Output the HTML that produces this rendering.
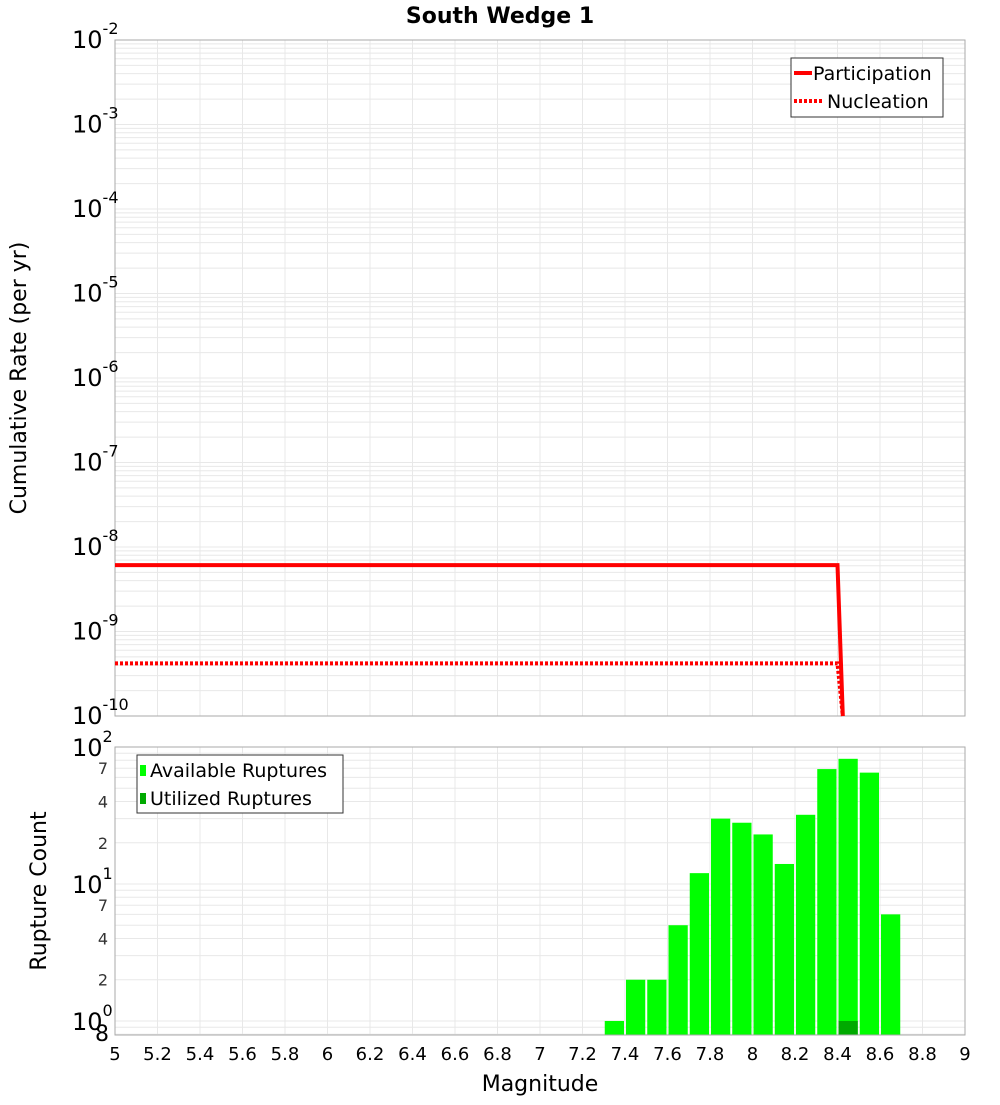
<!DOCTYPE html>
<html><head><meta charset="utf-8"><style>
body{margin:0;background:#fff;font-family:"Liberation Sans","DejaVu Sans",sans-serif;}
svg text{font-family:"DejaVu Sans","Liberation Sans",sans-serif;}
</style></head><body>
<svg id="c" width="1000" height="1100" xmlns="http://www.w3.org/2000/svg"></svg>
<script>
const lineMags=[5,8.4,8.425];
const participation=[6.1e-9,6.1e-9,1e-10];
const nucleation=[4.2e-10,4.2e-10,1e-10];
const binCenters=[7.35,7.45,7.55,7.65,7.75,7.85,7.95,8.05,8.15,8.25,8.35,8.45,8.55,8.65];
const available=[1,2,2,5,12,30,28,23,14,32,69,82,65,6];
const utilized=[0,0,0,0,0,0,0,0,0,0,0,1,0,0];
const xTicks=[5,5.2,5.4,5.6,5.8,6,6.2,6.4,6.6,6.8,7,7.2,7.4,7.6,7.8,8,8.2,8.4,8.6,8.8,9];
const topExps=[-10,-9,-8,-7,-6,-5,-4,-3,-2];

const NS='http://www.w3.org/2000/svg';
const svg=document.getElementById('c');
function el(t,a,p){const e=document.createElementNS(NS,t);for(const k in a)e.setAttribute(k,a[k]);(p||svg).appendChild(e);return e;}
const L=115,R=965;
const x=v=>L+(v-5)/(9-5)*(R-L);
const T1=40,B1=716;
const y1=v=>B1-(Math.log10(v)+10)/8*(B1-T1);
const T2=747,B2=1035,lo2=Math.log10(0.79);
const y2=v=>B2-(Math.log10(v)-lo2)/(2-lo2)*(B2-T2);

// title
let t=el('text',{x:500,y:23,'text-anchor':'middle','font-size':22,'font-weight':'bold'});t.textContent='South Wedge 1';


// top grid
const g1=el('g',{});

for(let e=-10;e<-2;e++)for(let m=1;m<10;m++){const yy=y1(m*Math.pow(10,e));el('line',{x1:L,x2:R,y1:yy,y2:yy,stroke:'#e8e8e8','stroke-width':1},g1);}
xTicks.forEach(v=>el('line',{x1:x(v),x2:x(v),y1:T1,y2:B1,stroke:'#e8e8e8'},g1));
let f=el('rect',{x:L,y:T1,width:R-L,height:B1-T1,fill:'none',stroke:'#aaa'});

topExps.forEach(e=>{const tt=el('text',{x:72,y:y1(Math.pow(10,e))+8,'font-size':24});tt.textContent='10';
 const s=el('tspan',{dy:-14,'font-size':16});s.textContent=String(e);tt.appendChild(s);
 });
t=el('text',{x:0,y:0,'font-size':22,'text-anchor':'middle',transform:`translate(26,378) rotate(-90)`});t.textContent='Cumulative Rate (per yr)';


// lines
function pts(xs,ys){return xs.map((v,i)=>x(v)+','+y1(ys[i])).join(' ');}
let p=el('polyline',{points:pts(lineMags,participation),fill:'none',stroke:'#f00','stroke-width':4});

p=el('polyline',{points:pts(lineMags,nucleation),fill:'none',stroke:'#f00','stroke-width':4,'stroke-dasharray':'3,2'});

// legend top
const lg=el('g',{});
el('rect',{x:791,y:58,width:152,height:59,fill:'#fff',stroke:'#333'},lg);
el('line',{x1:794,x2:812,y1:73,y2:73,stroke:'#f00','stroke-width':4},lg);
el('line',{x1:794,x2:822,y1:101,y2:101,stroke:'#f00','stroke-width':4,'stroke-dasharray':'3,2'},lg);
t=el('text',{x:813,y:80,'font-size':19},lg);t.textContent='Participation';
t=el('text',{x:827,y:108,'font-size':19},lg);t.textContent='Nucleation';

// bottom grid
const g2=el('g',{});
[0.8,0.9,1,2,3,4,5,6,7,8,9,10,20,30,40,50,60,70,80,90,100].forEach(v=>el('line',{x1:L,x2:R,y1:y2(v),y2:y2(v),stroke:'#e8e8e8'},g2));
xTicks.forEach(v=>el('line',{x1:x(v),x2:x(v),y1:T2,y2:B2,stroke:'#e8e8e8'},g2));
// bars
const bw=(x(0.1)-x(0))-2;
binCenters.forEach((c,i)=>{let r=el('rect',{x:x(c)-bw/2,y:y2(available[i]),width:bw,height:B2-y2(available[i]),fill:'#00ff00'});
 
 if(utilized[i]>0){r=el('rect',{x:x(c)-bw/2,y:y2(utilized[i]),width:bw,height:B2-y2(utilized[i]),fill:'#00aa00'});
 }});
f=el('rect',{x:L,y:T2,width:R-L,height:B2-T2,fill:'none',stroke:'#aaa'});

[[100,'2'],[10,'1'],[1,'0']].forEach(([v,e])=>{const tt=el('text',{x:72,y:y2(v)+9,'font-size':24});tt.textContent='10';
 const s=el('tspan',{dy:-14,'font-size':16});s.textContent=e;tt.appendChild(s);
 });
[[70,'7'],[40,'4'],[20,'2'],[7,'7'],[4,'4'],[2,'2']].forEach(([v,s])=>{const tt=el('text',{x:103,y:y2(v)+6,'font-size':16,'text-anchor':'middle','fill':'#333'});tt.textContent=s;
 });
t=el('text',{x:102,y:1041,'font-size':22,'text-anchor':'middle'});t.textContent='8';
t=el('text',{x:0,y:0,'font-size':22,'text-anchor':'middle',transform:`translate(46,891) rotate(-90)`});t.textContent='Rupture Count';

xTicks.forEach(v=>{const tt=el('text',{x:x(v),y:1060,'font-size':18,'text-anchor':'middle'});tt.textContent=String(v);
 });
t=el('text',{x:540,y:1091,'font-size':22,'text-anchor':'middle'});t.textContent='Magnitude';

// legend bottom
const lb=el('g',{});
el('rect',{x:137,y:755,width:206,height:58,fill:'#fff',stroke:'#333'},lb);
el('rect',{x:140,y:765,width:6,height:11,fill:'#00ff00'},lb);
el('rect',{x:140,y:793,width:6,height:11,fill:'#00aa00'},lb);
t=el('text',{x:150,y:777,'font-size':19},lb);t.textContent='Available Ruptures';
t=el('text',{x:150,y:805,'font-size':19},lb);t.textContent='Utilized Ruptures';
</script>
</body></html>
